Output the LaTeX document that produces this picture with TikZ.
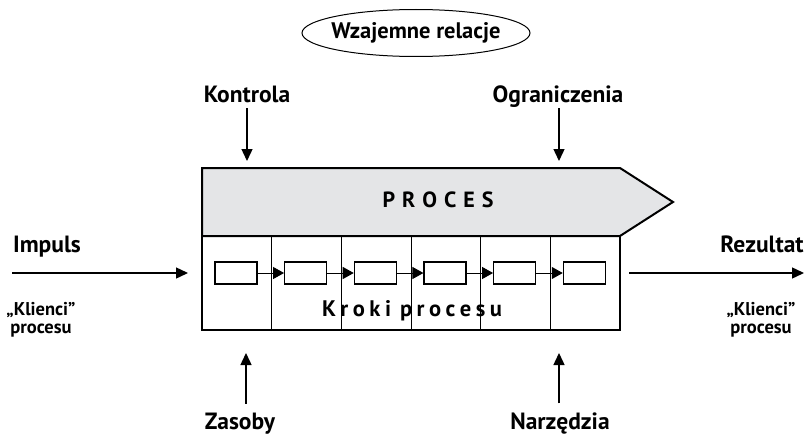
\documentclass[tikz,border=0pt]{standalone}
\usepackage{fontspec}
\setmainfont{PT Sans}
\usetikzlibrary{arrows.meta}
\definecolor{procgray}{RGB}{228,229,231}
\newcommand{\ls}{\hspace{7pt}}
\newcommand{\lk}{\hspace{4.5pt}}

\begin{document}
\begin{tikzpicture}[x=1pt,y=-1pt]
	\tikzstyle{word}=[inner sep=0pt,outer sep=0pt,font=\bfseries\fontsize{23.5}{25}\selectfont]
	\tikzstyle{note}=[inner sep=0pt,align=center,font=\bfseries\fontsize{18.5}{18}\selectfont]
	\tikzstyle{krok}=[draw,line width=1.2pt,fill=white,minimum width=42pt,minimum height=22pt,inner sep=0pt]
	\tikzstyle{flow}=[draw,line width=1.4pt,-{Triangle[length=12pt,width=11pt]}]
	\tikzstyle{link}=[draw,line width=1pt,-{Triangle[length=11pt,width=12pt]}]
	\useasboundingbox (0,0) rectangle (808,436);

	% wzajemne relacje
	\node [word,font=\bfseries\fontsize{22.5}{24}\selectfont] (relacje) at (416,33) {Wzajemne relacje};
	\draw [line width=1pt] (relacje.center) ellipse [x radius=114, y radius=23.5];

	% proces
	\draw [line width=2pt,fill=procgray] (202,168) -- (620,168) -- (673,202) -- (620,236) -- (202,236) -- cycle;
	\node [word,font=\bfseries\fontsize{22}{24}\selectfont] (proces) at (438,200) {P\ls R\ls O\ls C\ls E\ls S};

	% kroki procesu
	\foreach \i in {1,...,5}
		\draw [line width=0.8pt] ({202+69.67*\i},236) -- ({202+69.67*\i},330);
	\draw [line width=2pt] (202,236) rectangle (620,330);
	\foreach \i in {1,...,6}
		\node [krok] (krok\i) at ({166.33+69.67*\i},273) {};
	\foreach \i [count=\j from 2] in {1,...,5}
		\path[link] (krok\i) -- (krok\j);
	\node [word,font=\bfseries\fontsize{22.5}{24}\selectfont] (kroki) at (412,311) {K\lk r\lk o\lk k\lk i\lk\lk p\lk r\lk o\lk c\lk e\lk s\lk u};

	% wejscie i wyjscie
	\node [word,anchor=base] (impuls) at (47,252) {Impuls};
	\node [note] (klienci-we) at (41,320) {„Klienci”\\procesu};
	\coordinate (impuls-a) at (12,273);
	\coordinate (impuls-b) at (188,273);
	\path[flow] (impuls-a) -- (impuls-b);

	\node [word,anchor=base] (rezultat) at (762,252) {Rezultat};
	\node [note] (klienci-wy) at (761,320) {„Klienci”\\procesu};
	\coordinate (rezultat-a) at (629,273);
	\coordinate (rezultat-b) at (804,273);
	\path[flow] (rezultat-a) -- (rezultat-b);

	% kontrola i ograniczenia
	\node [word,anchor=base,outer ysep=6pt] (kontrola) at (247,102) {Kontrola};
	\coordinate (kontrola-in) at (247,161);
	\path[flow] (kontrola.south -| kontrola-in) -- (kontrola-in);

	\node [word,anchor=base,outer ysep=6pt] (ograniczenia) at (558,102) {Ograniczenia};
	\coordinate (ograniczenia-in) at (559,161);
	\path[flow] (ograniczenia.base -| ograniczenia-in) ++(0,6) -- (ograniczenia-in);

	% zasoby i narzedzia
	\node [word,anchor=base,outer ysep=9pt] (zasoby) at (240,429) {Zasoby};
	\coordinate (zasoby-in) at (246,353);
	\path[flow] (zasoby.north -| zasoby-in) -- (zasoby-in);

	\node [word,anchor=base,outer ysep=9pt] (narzedzia) at (560,429) {Narzędzia};
	\coordinate (narzedzia-in) at (559,353);
	\path[flow] (narzedzia.north -| narzedzia-in) -- (narzedzia-in);
\end{tikzpicture}
\end{document}
